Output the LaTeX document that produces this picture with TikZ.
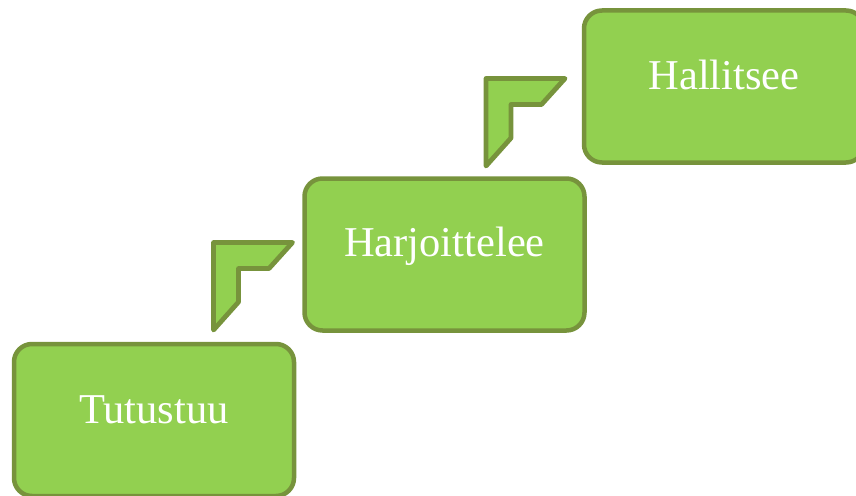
\documentclass[tikz,border=0pt]{standalone}
\usepackage{fontspec}
\setmainfont{Liberation Serif}
\usetikzlibrary{calc}
\definecolor{boxfill}{HTML}{92D050}
\definecolor{boxline}{HTML}{77933C}
\tikzset{
  stepbox/.style={draw=boxline, fill=boxfill, line width=4.5pt, rounded corners=18pt,
    minimum width=280pt, minimum height=152pt, inner sep=0pt},
  steplabel/.style={text=white, font=\fontsize{42.5}{50}\selectfont, anchor=base, inner sep=0pt},
  bentshape/.style={draw=boxline, fill=boxfill, line width=4.8pt, line join=round}
}
\begin{document}
\begin{tikzpicture}[x=1pt,y=-1pt]
\useasboundingbox (0,0) rectangle (856,495);
% boxes
\node[stepbox] (tut) at (154,420) {};
\node[stepbox] (har) at (444.5,254.5) {};
\node[stepbox] (hal) at (724,86.5) {};
% labels
\node[steplabel] (tutl) at ($(tut.center)+(0,3)$) {Tutustuu};
\node[steplabel] (harl) at ($(har.center)+(0,2)$) {Harjoittelee};
\node[steplabel] (hall) at ($(hal.center)+(0,3)$) {Hallitsee};
% bent corner shapes
\draw[bentshape] (213.5,242.5) -- (292.5,242.5) -- (269,268.5) -- (238.5,268.5) -- (238.5,302) -- (213.5,330) -- cycle;
\begin{scope}[shift={(272.5,-164)}]
\draw[bentshape] (213.5,242.5) -- (292.5,242.5) -- (269,268.5) -- (238.5,268.5) -- (238.5,302) -- (213.5,330) -- cycle;
\end{scope}
\end{tikzpicture}
\end{document}
